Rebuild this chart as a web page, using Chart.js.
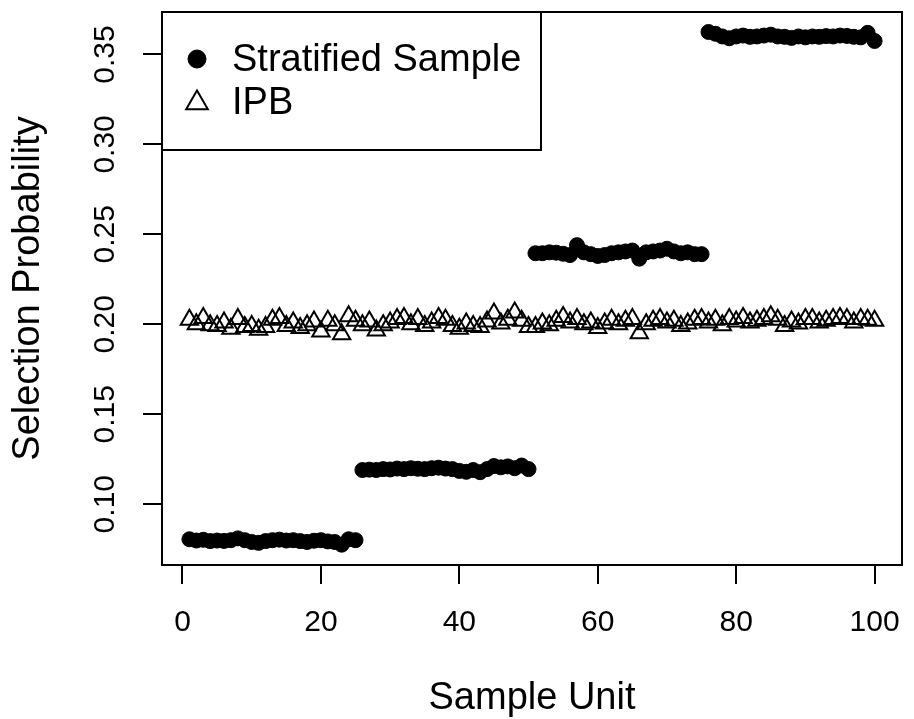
<!DOCTYPE html>
<html>
<head>
<meta charset="utf-8">
<script src="https://cdn.jsdelivr.net/npm/chart.js@4.4.1/dist/chart.umd.min.js"></script>
<style>
  html, body { margin: 0; padding: 0; background: #ffffff; }
  canvas { display: block; }
</style>
</head>
<body>
<canvas id="c" width="914" height="719"></canvas>
<script>
// ---- data ----
const sampleUnits = [
  1,2,3,4,5,6,7,8,9,10,11,12,13,14,15,16,17,18,19,20,
  21,22,23,24,25,26,27,28,29,30,31,32,33,34,35,36,37,38,39,40,
  41,42,43,44,45,46,47,48,49,50,51,52,53,54,55,56,57,58,59,60,
  61,62,63,64,65,66,67,68,69,70,71,72,73,74,75,76,77,78,79,80,
  81,82,83,84,85,86,87,88,89,90,91,92,93,94,95,96,97,98,99,100
];
const stratifiedSample = [
  0.0805, 0.0798, 0.0802, 0.0795, 0.0798, 0.0796, 0.0800, 0.0810, 0.0800, 0.0790,
  0.0785, 0.0795, 0.0800, 0.0803, 0.0798, 0.0800, 0.0795, 0.0790, 0.0797, 0.0800,
  0.0793, 0.0790, 0.0775, 0.0805, 0.0800,
  0.1190, 0.1192, 0.1190, 0.1195, 0.1193, 0.1198, 0.1195, 0.1200, 0.1197, 0.1195,
  0.1200, 0.1203, 0.1198, 0.1195, 0.1185, 0.1180, 0.1190, 0.1178, 0.1195, 0.1212,
  0.1205, 0.1210, 0.1200, 0.1215, 0.1195,
  0.2395, 0.2395, 0.2400, 0.2398, 0.2392, 0.2385, 0.2440, 0.2400, 0.2390, 0.2380,
  0.2385, 0.2395, 0.2400, 0.2405, 0.2410, 0.2365, 0.2400, 0.2405, 0.2410, 0.2420,
  0.2405, 0.2395, 0.2400, 0.2390, 0.2390,
  0.3625, 0.3615, 0.3600, 0.3590, 0.3600, 0.3605, 0.3598, 0.3600, 0.3605, 0.3610,
  0.3600, 0.3598, 0.3592, 0.3600, 0.3595, 0.3600, 0.3598, 0.3602, 0.3600, 0.3605,
  0.3603, 0.3598, 0.3595, 0.3620, 0.3575
];
const ipb = [
  0.2025, 0.2000, 0.2035, 0.1995, 0.1990, 0.2010, 0.1975, 0.2030, 0.1985, 0.1990,
  0.1970, 0.1985, 0.2025, 0.2035, 0.1990, 0.2010, 0.1980, 0.1995, 0.2015, 0.1960,
  0.2020, 0.1995, 0.1945, 0.2045, 0.2020, 0.1995, 0.2015, 0.1965, 0.1995, 0.2010,
  0.2030, 0.2035, 0.2000, 0.2030, 0.1990, 0.2010, 0.2035, 0.2025, 0.1990, 0.1975,
  0.2005, 0.1990, 0.1985, 0.2015, 0.2060, 0.2005, 0.2025, 0.2065, 0.2020, 0.1985,
  0.1985, 0.2005, 0.1995, 0.2020, 0.2040, 0.2010, 0.2030, 0.2000, 0.2010, 0.1980,
  0.2005, 0.2025, 0.2000, 0.2020, 0.2030, 0.1950, 0.2000, 0.2020, 0.2030, 0.2010,
  0.2020, 0.1990, 0.2005, 0.2025, 0.2030, 0.2010, 0.2025, 0.1995, 0.2030, 0.2015,
  0.2035, 0.2010, 0.2020, 0.2030, 0.2045, 0.2025, 0.1990, 0.2015, 0.2005, 0.2030,
  0.2030, 0.2010, 0.2020, 0.2030, 0.2035, 0.2030, 0.2010, 0.2030, 0.2025, 0.2020
];
const xTicks = [0, 20, 40, 60, 80, 100];
const yTicks = [0.10, 0.15, 0.20, 0.25, 0.30, 0.35];
const seriesNames = ['Stratified Sample', 'IPB'];
const xTitle = 'Sample Unit';
const yTitle = 'Selection Probability';

// ---- chart ----
const FONT = '"Liberation Sans", Arial, Helvetica, sans-serif';
const toPoints = (vals) => vals.map((v, i) => ({ x: sampleUnits[i], y: v }));

const boxPlugin = {
  id: 'rbox',
  afterDatasetsDraw(chart) {
    const a = chart.chartArea;
    const ctx = chart.ctx;
    ctx.save();
    ctx.strokeStyle = '#000';
    ctx.lineWidth = 2;
    ctx.strokeRect(a.left, a.top, a.right - a.left, a.bottom - a.top);
    ctx.restore();
  }
};

const legendPlugin = {
  id: 'rlegend',
  afterDraw(chart) {
    const a = chart.chartArea;
    const ctx = chart.ctx;
    ctx.save();
    ctx.fillStyle = '#fff';
    ctx.fillRect(a.left, a.top, 379, 138);
    ctx.strokeStyle = '#000';
    ctx.lineWidth = 2;
    ctx.strokeRect(a.left, a.top, 379, 138);
    const rows = [
      { y: a.top + 47, ty: a.top + 49, r: 9 },
      { y: a.top + 91, ty: a.top + 92, r: 12.5 }
    ];
    chart.data.datasets.forEach((ds, i) => {
      const row = rows[i];
      ctx.fillStyle = ds.backgroundColor;
      ctx.strokeStyle = ds.borderColor;
      ctx.lineWidth = ds.borderWidth;
      Chart.helpers.drawPoint(ctx, { pointStyle: ds.pointStyle, radius: row.r, borderWidth: ds.borderWidth, rotation: 0 }, a.left + 35, row.y);
      ctx.fillStyle = '#000';
      ctx.font = '38px ' + FONT;
      ctx.textAlign = 'left';
      ctx.textBaseline = 'middle';
      ctx.fillText(ds.label, a.left + 70, row.ty);
    });
    ctx.restore();
  }
};

new Chart(document.getElementById('c'), {
  type: 'scatter',
  data: {
    datasets: [
      {
        label: seriesNames[0],
        data: toPoints(stratifiedSample),
        pointStyle: 'circle',
        pointRadius: 7.5,
        pointHoverRadius: 7.5,
        backgroundColor: '#000',
        borderColor: '#000',
        borderWidth: 1
      },
      {
        label: seriesNames[1],
        data: toPoints(ipb),
        pointStyle: 'triangle',
        pointRadius: 10,
        pointHoverRadius: 10,
        backgroundColor: 'rgba(0,0,0,0)',
        borderColor: '#000',
        borderWidth: 2
      }
    ]
  },
  options: {
    responsive: false,
    animation: false,
    devicePixelRatio: 1,
    layout: { padding: { top: 8, right: 1, left: 0, bottom: 0 } },
    plugins: { legend: { display: false }, tooltip: { enabled: false } },
    scales: {
      x: {
        type: 'linear',
        min: -2.96,
        max: 103.96,
        afterBuildTicks: (s) => { s.ticks = xTicks.map(v => ({ value: v })); },
        afterFit: (s) => { s.height = 154; s.paddingLeft = 0; s.paddingRight = 0; },
        grid: { display: true, drawOnChartArea: false, drawTicks: true, tickLength: 19, color: '#000', lineWidth: 2 },
        border: { display: true, color: '#000', width: 2 },
        ticks: { color: '#000', font: { size: 30, family: FONT }, padding: 21, maxRotation: 0, minRotation: 0, autoSkip: false },
        title: { display: true, text: xTitle, color: '#000', font: { size: 38, family: FONT }, padding: { top: 0, bottom: -2 } }
      },
      y: {
        type: 'linear',
        min: 0.0662,
        max: 0.3736,
        afterBuildTicks: (s) => { s.ticks = yTicks.map(v => ({ value: v })); },
        afterFit: (s) => { s.width = 162; s.paddingTop = 0; s.paddingBottom = 0; },
        grid: { display: true, drawOnChartArea: false, drawTicks: true, tickLength: 19, color: '#000', lineWidth: 2 },
        border: { display: true, color: '#000', width: 2 },
        ticks: {
          color: '#000', font: { size: 30, family: FONT }, padding: 8,
          minRotation: 90, maxRotation: 90, crossAlign: 'center', autoSkip: false,
          callback: (v) => Number(v).toFixed(2)
        },
        title: { display: true, text: yTitle, color: '#000', font: { size: 38, family: FONT }, padding: { top: 6, bottom: 4 } }
      }
    }
  },
  plugins: [boxPlugin, legendPlugin]
});
</script>
</body>
</html>
